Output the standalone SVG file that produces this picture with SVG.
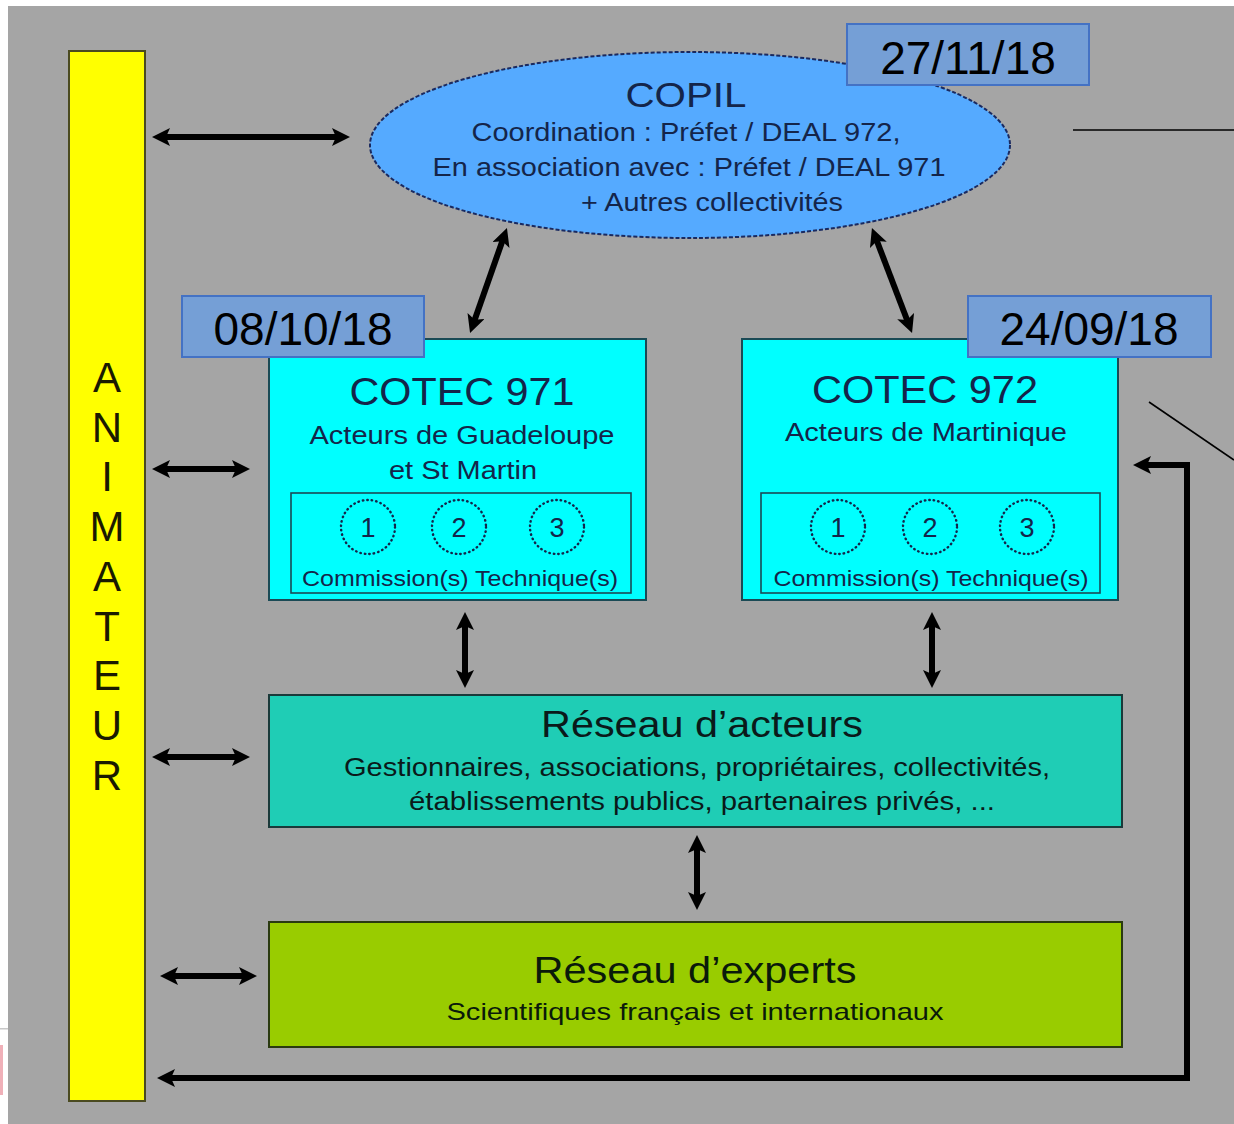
<svg xmlns="http://www.w3.org/2000/svg" width="1234" height="1124" viewBox="0 0 1234 1124">
<defs>
<style>
text{font-family:"Liberation Sans",Arial,sans-serif;text-anchor:middle}
.t{fill:#14254a}
.d{fill:#000;font-size:46px}
.date{fill:#759fd6;stroke:#4472c4;stroke-width:2}
.cot{fill:#00ffff;stroke:#1a4a55;stroke-width:2}
.inner{fill:none;stroke:#1a4a55;stroke-width:1.6}
.circ{fill:none;stroke:#14254a;stroke-width:2.4;stroke-dasharray:0.5 4;stroke-linecap:round}
.num{fill:#14254a;font-size:27px}
.com{fill:#14254a;font-size:22px}
.arr{fill:none;stroke:#000;stroke-width:6;marker-start:url(#ah);marker-end:url(#ah)}
.thin{fill:none;stroke:#000;stroke-width:1.6}
.let{fill:#1a1a00;font-size:42px}
</style>
<marker id="ah" markerUnits="userSpaceOnUse" markerWidth="20" markerHeight="18" viewBox="0 0 20 18" refX="10" refY="9" orient="auto-start-reverse">
<path d="M0,0 L18,9 L0,18 L4,9 z" fill="#000"/>
</marker>
</defs>
<rect x="0" y="0" width="1234" height="1124" fill="#ffffff"/>
<rect x="8" y="6" width="1226" height="1118" fill="#a5a5a5"/>
<rect x="0" y="1028" width="8" height="1.5" fill="#c8c8c8"/>
<rect x="0" y="1045" width="3" height="50" fill="#f0b0b8"/>

<g id="animateur">
<rect x="69" y="51" width="76" height="1050" fill="#ffff00" stroke="#4a4a20" stroke-width="2"/>
<text class="let" x="107" y="392">A</text>
<text class="let" x="107" y="442">N</text>
<text class="let" x="107" y="491">I</text>
<text class="let" x="107" y="541">M</text>
<text class="let" x="107" y="591">A</text>
<text class="let" x="107" y="641">T</text>
<text class="let" x="107" y="690">E</text>
<text class="let" x="107" y="740">U</text>
<text class="let" x="107" y="790">R</text>
</g>

<g id="copil">
<ellipse cx="690" cy="145" rx="320" ry="93" fill="#55aaff" stroke="#1a2a60" stroke-width="2" stroke-dasharray="4 2"/>
<text class="t" x="686" y="107" font-size="35" textLength="121" lengthAdjust="spacingAndGlyphs">COPIL</text>
<text class="t" x="686" y="141" font-size="26" textLength="429" lengthAdjust="spacingAndGlyphs">Coordination : Préfet / DEAL 972,</text>
<text class="t" x="689" y="176" font-size="26" textLength="513" lengthAdjust="spacingAndGlyphs">En association avec : Préfet / DEAL 971</text>
<text class="t" x="712" y="211" font-size="26" textLength="262" lengthAdjust="spacingAndGlyphs">+ Autres collectivités</text>
</g>

<g id="cotec971">
<rect class="cot" x="269" y="339" width="377" height="261"/>
<text class="t" x="462" y="405" font-size="39" textLength="225" lengthAdjust="spacingAndGlyphs">COTEC 971</text>
<text class="t" x="462" y="444" font-size="26" textLength="305" lengthAdjust="spacingAndGlyphs">Acteurs de Guadeloupe</text>
<text class="t" x="463" y="479" font-size="26" textLength="148" lengthAdjust="spacingAndGlyphs">et St Martin</text>
<rect class="inner" x="291" y="493" width="340" height="100"/>
<circle class="circ" cx="368" cy="527" r="27"/>
<circle class="circ" cx="459" cy="527" r="27"/>
<circle class="circ" cx="557" cy="527" r="27"/>
<text class="num" x="368" y="537">1</text>
<text class="num" x="459" y="537">2</text>
<text class="num" x="557" y="537">3</text>
<text class="com" x="460" y="586" textLength="316" lengthAdjust="spacingAndGlyphs">Commission(s) Technique(s)</text>
</g>

<g id="cotec972">
<rect class="cot" x="742" y="339" width="376" height="261"/>
<text class="t" x="925" y="403" font-size="39" textLength="226" lengthAdjust="spacingAndGlyphs">COTEC 972</text>
<text class="t" x="926" y="441" font-size="26" textLength="282" lengthAdjust="spacingAndGlyphs">Acteurs de Martinique</text>
<rect class="inner" x="761" y="493" width="339" height="100"/>
<circle class="circ" cx="838" cy="527" r="27"/>
<circle class="circ" cx="930" cy="527" r="27"/>
<circle class="circ" cx="1027" cy="527" r="27"/>
<text class="num" x="838" y="537">1</text>
<text class="num" x="930" y="537">2</text>
<text class="num" x="1027" y="537">3</text>
<text class="com" x="931" y="586" textLength="315" lengthAdjust="spacingAndGlyphs">Commission(s) Technique(s)</text>
</g>

<g id="reseau-acteurs">
<rect x="269" y="695" width="853" height="132" fill="#1fcdb5" stroke="#1a3a3a" stroke-width="2"/>
<text x="702" y="737" font-size="37" fill="#0a1a1a" textLength="322" lengthAdjust="spacingAndGlyphs">Réseau d’acteurs</text>
<text x="697" y="776" font-size="26" fill="#0a1a1a" textLength="706" lengthAdjust="spacingAndGlyphs">Gestionnaires, associations, propriétaires, collectivités,</text>
<text x="702" y="810" font-size="26" fill="#0a1a1a" textLength="586" lengthAdjust="spacingAndGlyphs">établissements publics, partenaires privés, ...</text>
</g>

<g id="reseau-experts">
<rect x="269" y="922" width="853" height="125" fill="#99cc00" stroke="#2a3a10" stroke-width="2"/>
<text x="695" y="983" font-size="37" fill="#0a1a0a" textLength="323" lengthAdjust="spacingAndGlyphs">Réseau d’experts</text>
<text x="695" y="1020" font-size="24" fill="#0a1a0a" textLength="497" lengthAdjust="spacingAndGlyphs">Scientifiques français et internationaux</text>
</g>

<g id="dates">
<rect class="date" x="847" y="24" width="242" height="61"/>
<text class="d" x="968" y="74">27/11/18</text>
<rect class="date" x="182" y="296" width="242" height="61"/>
<text class="d" x="303" y="345">08/10/18</text>
<rect class="date" x="968" y="296" width="243" height="61"/>
<text class="d" x="1089" y="345">24/09/18</text>
</g>

<g id="connectors">
<line class="arr" x1="160" y1="137" x2="342" y2="137"/>
<line class="arr" x1="160" y1="469" x2="242" y2="469"/>
<line class="arr" x1="160" y1="757" x2="242" y2="757"/>
<line class="arr" x1="168" y1="976" x2="249" y2="976"/>
<line class="arr" x1="504.3" y1="235.5" x2="472.7" y2="325.5"/>
<line class="arr" x1="874.8" y1="235.5" x2="909.2" y2="325.5"/>
<line class="arr" x1="465" y1="620" x2="465" y2="680"/>
<line class="arr" x1="932" y1="620" x2="932" y2="680"/>
<line class="arr" x1="697" y1="843" x2="697" y2="902"/>
<path class="arr" d="M1141,465 H1187 V1078 H165" stroke-linejoin="miter"/>
<path class="thin" d="M1073,130 H1234"/>
<path class="thin" d="M1149,402 L1234,460"/>
</g>
</svg>
